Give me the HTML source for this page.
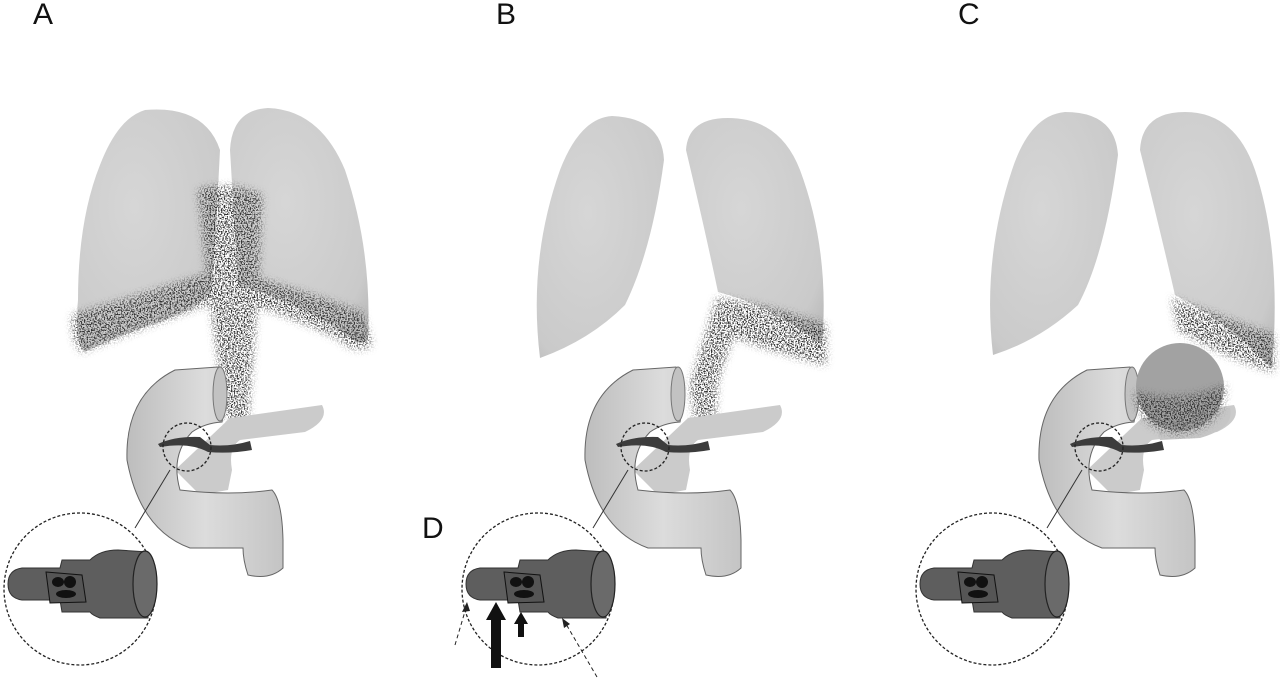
<!DOCTYPE html>
<html><head><meta charset="utf-8"><style>
html,body{margin:0;padding:0;background:#fff;width:1280px;height:679px;overflow:hidden}
.lbl{position:absolute;font-family:"Liberation Sans",sans-serif;font-size:30px;color:#111}
</style></head><body>
<div class="lbl" style="left:33px;top:-2px">A</div>
<div class="lbl" style="left:496px;top:-2px">B</div>
<div class="lbl" style="left:958px;top:-2px">C</div>
<div class="lbl" style="left:422px;top:512px">D</div>
<svg width="1280" height="679" style="position:absolute;left:0;top:0">
<defs>
<filter id="sp" x="-10%" y="-10%" width="120%" height="120%">
<feTurbulence type="fractalNoise" baseFrequency="0.7" numOctaves="2" seed="3" result="n"/>
<feColorMatrix in="n" type="matrix" values="0 0 0 0 0  0 0 0 0 0  0 0 0 0 0  7 0 0 0 -3.3" result="m"/>
<feGaussianBlur in="SourceGraphic" stdDeviation="4" result="b"/>
<feComposite in="b" in2="m" operator="in"/>
</filter>
<radialGradient id="lg" cx="0.4" cy="0.4" r="0.8"><stop offset="0" stop-color="#d6d6d6"/><stop offset="0.8" stop-color="#cacaca"/><stop offset="1" stop-color="#b8b8b8"/></radialGradient>
<linearGradient id="dg" x1="0" x2="1"><stop offset="0" stop-color="#bdbdbd"/><stop offset="0.5" stop-color="#dcdcdc"/><stop offset="1" stop-color="#c4c4c4"/></linearGradient>
<g id="duo">
<path d="M230 418 L322 405 Q330 420 305 432 L240 440 Q228 448 232 470 L228 490 L200 495 L175 470 Z" fill="#cbcbcb"/>
<path d="M175 370 L218 367 Q228 395 222 422 Q205 423 192 432 Q170 455 180 490 Q230 496 272 490 Q282 500 283 540 L283 568 Q270 580 248 575 Q243 560 243 548 L190 548 Q140 530 127 460 Q125 395 175 370 Z" fill="url(#dg)" stroke="#666" stroke-width="1"/>
<ellipse cx="220" cy="394" rx="7" ry="27" fill="#c2c2c2" stroke="#777" stroke-width="1"/>
<path d="M158 444 Q175 436 200 437 L210 445 Q230 447 250 441 L252 450 Q230 454 208 452 Q190 442 160 447 Z" fill="#3c3c3c"/>
<circle cx="187" cy="447" r="24" fill="none" stroke="#222" stroke-width="1.3" stroke-dasharray="3 2"/>
<line x1="170" y1="470" x2="135" y2="528" stroke="#333" stroke-width="1"/>
<circle cx="80" cy="589" r="76" fill="none" stroke="#222" stroke-width="1.3" stroke-dasharray="3 2"/>
<path d="M22 568 L60 568 L62 560 L90 560 Q100 550 118 550 L148 552 L148 618 L100 618 Q92 615 90 612 L62 612 L60 600 L22 600 Q8 598 8 584 Q8 570 22 568 Z" fill="#5e5e5e" stroke="#333" stroke-width="1"/>
<ellipse cx="145" cy="584" rx="12" ry="33" fill="#6a6a6a" stroke="#222" stroke-width="1.2"/>
<path d="M46 572 L82 575 L86 602 L50 603 Z" fill="#555" stroke="#111" stroke-width="1"/>
<ellipse cx="58" cy="582" rx="6" ry="5" fill="#111"/><ellipse cx="70" cy="582" rx="6" ry="6" fill="#111"/><ellipse cx="66" cy="594" rx="10" ry="4" fill="#111"/>
</g>
</defs>
<!-- Panel A lungs -->
<path d="M145 110 Q205 105 220 150 Q216 230 212 290 Q200 310 150 325 Q110 340 85 352 Q74 345 78 300 Q78 220 100 165 Q118 118 145 110 Z" fill="url(#lg)"/>
<path d="M268 108 Q232 110 230 150 L238 285 Q290 300 340 330 Q362 350 368 338 Q372 250 345 170 Q320 110 268 108 Z" fill="url(#lg)"/>
<g filter="url(#sp)" fill="#333">
<path d="M72 315 Q140 295 212 272 L214 302 Q150 325 82 352 Q72 345 72 315 Z"/>
<path d="M238 272 Q300 290 362 312 L372 345 Q355 355 340 340 Q290 315 240 302 Z"/>
<path d="M198 190 Q230 180 262 195 L258 290 L248 420 L226 420 L210 300 Z"/>
</g>
<use href="#duo"/>
<!-- Panel B lungs -->
<path d="M612 116 Q662 118 664 160 Q652 250 625 305 Q590 340 540 358 Q528 260 560 170 Q580 118 612 116 Z" fill="url(#lg)"/>
<path d="M728 118 Q688 118 686 150 Q705 230 718 292 Q770 305 822 345 Q830 250 800 170 Q780 118 728 118 Z" fill="url(#lg)"/>
<g filter="url(#sp)" fill="#333">
<path d="M718 298 Q770 305 826 325 L826 365 Q770 352 715 330 Z"/>
<path d="M716 300 L742 310 L718 380 L714 430 L696 428 L690 385 Z"/>
</g>
<use href="#duo" transform="translate(458,0)"/>
<!-- arrows D -->
<polygon points="486,620 496,602 506,620 501,620 501,668 491,668 491,620" fill="#111"/>
<polygon points="514,624 521,612 528,624 524,624 524,637 518,637 518,624" fill="#111"/>
<line x1="455" y1="645" x2="466" y2="608" stroke="#222" stroke-width="1" stroke-dasharray="4 3"/>
<polygon points="467,602 462,612 470,611" fill="#222"/>
<line x1="597" y1="677" x2="566" y2="624" stroke="#222" stroke-width="1" stroke-dasharray="4 3"/>
<polygon points="562,618 564,628 570,624" fill="#222"/>
<!-- Panel C lungs -->
<path d="M1065 112 Q1115 112 1118 155 Q1105 255 1078 305 Q1040 340 993 355 Q982 260 1012 170 Q1030 115 1065 112 Z" fill="url(#lg)"/>
<path d="M1185 112 Q1142 112 1140 150 Q1160 230 1175 295 Q1225 320 1272 368 Q1282 250 1255 170 Q1235 112 1185 112 Z" fill="url(#lg)"/>
<g filter="url(#sp)" fill="#333">
<path d="M1172 298 Q1230 320 1274 335 L1274 372 Q1230 360 1178 330 Z"/>
</g>
<use href="#duo" transform="translate(912,0)"/>
<path d="M1150 410 Q1200 415 1230 408 Q1235 428 1200 438 L1160 440 Z" fill="#c6c6c6"/>
<circle cx="1180" cy="387" r="44" fill="#a2a2a2"/>
<g filter="url(#sp)" fill="#333">
<path d="M1134 392 Q1180 405 1226 385 Q1224 428 1180 434 Q1138 430 1134 392 Z"/>
</g>
</svg>
</body></html>
